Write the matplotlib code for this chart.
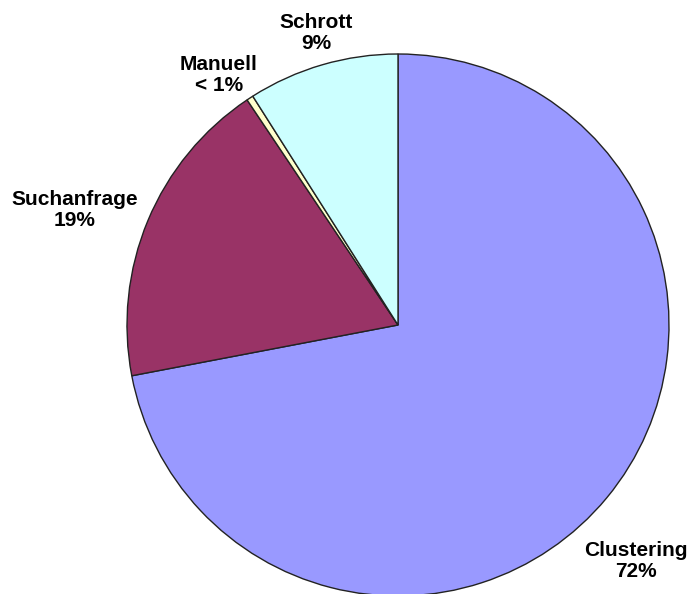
import matplotlib.pyplot as plt

labels = ['Clustering', 'Suchanfrage', 'Manuell', 'Schrott']
values = [72.0, 18.6, 0.4, 9.0]
pct_text = ['72%', '19%', '< 1%', '9%']
colors = ['#9999FF', '#993366', '#FFFFCC', '#CCFFFF']

# label centres in pixel coords (y measured from the top)
label_pos = [(636, 561), (75, 210), (219, 75), (316, 33)]

W, H = 691, 594
fig = plt.figure(figsize=(W / 100, H / 100), dpi=100)
ax = fig.add_axes([0, 0, 1, 1])

ax.pie(values, colors=colors, startangle=90, counterclock=False,
       center=(398, H - 325), radius=271,
       wedgeprops=dict(edgecolor='#222222', linewidth=1.0), frame=True)
ax.set_xlim(0, W)
ax.set_ylim(0, H)
ax.set_aspect('equal')
ax.axis('off')

for name, pct, (x, y) in zip(labels, pct_text, label_pos):
    ax.text(x, H - y, name + '\n' + pct, ha='center', va='center',
            fontsize=15, fontweight='bold', family='Liberation Sans',
            linespacing=1.1)

fig.savefig('out.png', dpi=100)
